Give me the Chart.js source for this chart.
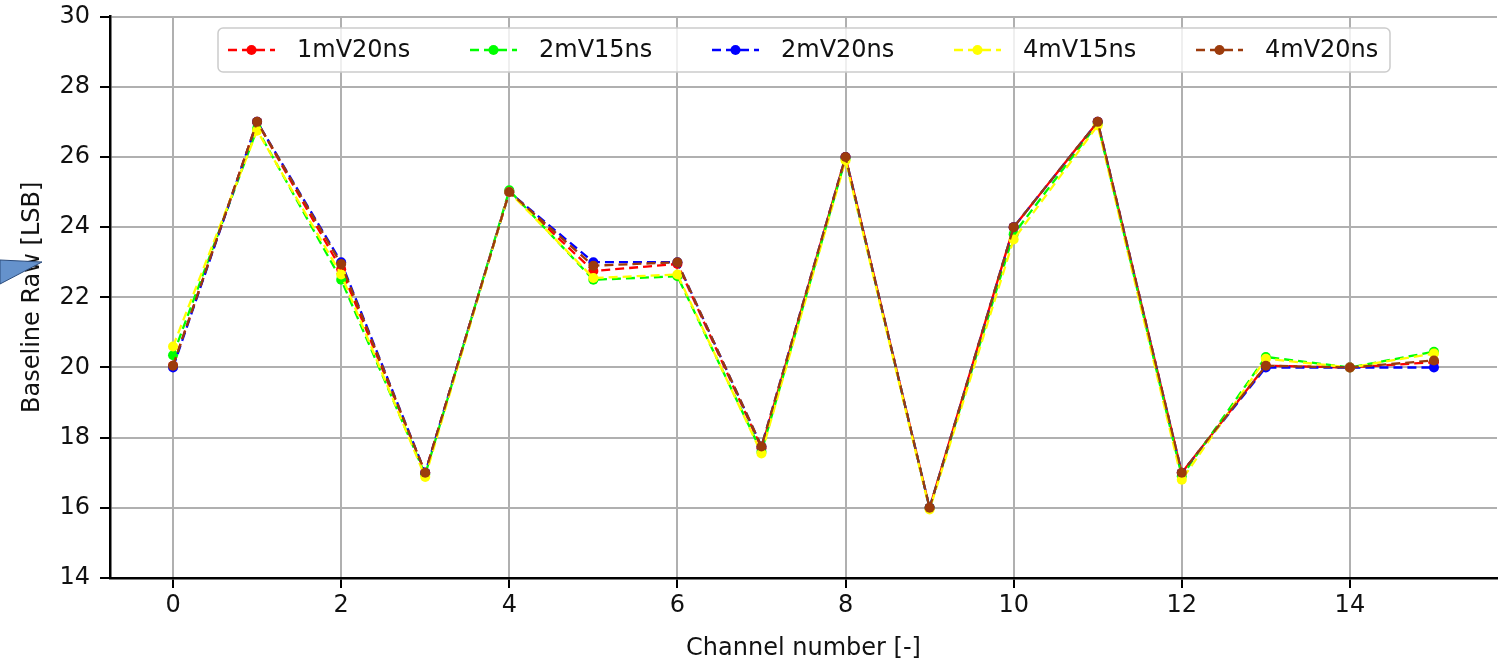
<!DOCTYPE html>
<html>
<head>
<meta charset="utf-8">
<script src="https://cdn.jsdelivr.net/npm/chart.js@4"></script>
<style>
  html, body { margin: 0; padding: 0; background: #fff; }
  #wrap { width: 1502px; height: 664px; }
</style>
</head>
<body>
<div id="wrap"><canvas id="baselineChart" width="1502" height="664"></canvas></div>
<script>
// channel numbers on the x axis
const channels = [0, 1, 2, 3, 4, 5, 6, 7, 8, 9, 10, 11, 12, 13, 14, 15];

// baseline raw values per setting
const v1mV20ns = [20.05, 27.0, 22.8, 17.0, 25.0, 22.75, 22.95, 17.7, 26.0, 16.0, 24.0, 27.0, 17.0, 20.05, 20.0, 20.15];
const v2mV15ns = [20.35, 26.8, 22.5, 16.95, 25.05, 22.5, 22.6, 17.6, 25.95, 16.0, 23.8, 26.95, 16.9, 20.3, 20.0, 20.45];
const v2mV20ns = [20.0, 27.0, 23.0, 17.0, 25.0, 23.0, 23.0, 17.75, 26.0, 16.0, 24.0, 27.0, 17.0, 20.0, 20.0, 20.0];
const v4mV15ns = [20.6, 26.75, 22.65, 16.88, 25.0, 22.55, 22.65, 17.55, 25.9, 15.95, 23.65, 26.9, 16.8, 20.25, 20.0, 20.4];
const v4mV20ns = [20.05, 27.0, 22.95, 17.0, 25.0, 22.9, 23.0, 17.75, 26.0, 16.0, 24.0, 27.0, 17.0, 20.05, 20.0, 20.2];

const seriesNames = ['1mV20ns', '2mV15ns', '2mV20ns', '4mV15ns', '4mV20ns'];
const seriesValues = [v1mV20ns, v2mV15ns, v2mV20ns, v4mV15ns, v4mV20ns];
const seriesColors = ['#ff0000', '#00ff00', '#0000ff', '#ffff00', '#9c3b0c'];

const xTicks = [0, 2, 4, 6, 8, 10, 12, 14];
const yTicks = [14, 16, 18, 20, 22, 24, 26, 28, 30];

const FONT = "'DejaVu Sans', sans-serif";
const FSIZE = 24;
const DASH = [9, 5];

const datasets = seriesNames.map((name, i) => ({
    label: name,
    data: channels.map((c, k) => ({ x: c, y: seriesValues[i][k] })),
    borderColor: seriesColors[i],
    backgroundColor: seriesColors[i],
    borderWidth: 2.3,
    borderDash: DASH,
    pointRadius: 5,
    pointBorderWidth: 0,
    tension: 0,
    order: seriesNames.length - i // later series drawn on top, like matplotlib
}));

// legend box in the style of matplotlib
const boxLegend = {
    id: 'boxLegend',
    afterDraw(chart) {
        const c = chart.ctx;
        const x0 = 218, y0 = 28, w = 1172, h = 44;
        c.save();
        c.beginPath();
        c.roundRect(x0, y0, w, h, 5);
        c.fillStyle = 'rgba(255,255,255,0.8)';
        c.fill();
        c.strokeStyle = '#cccccc';
        c.lineWidth = 1.5;
        c.stroke();
        const cy = y0 + h / 2;
        chart.data.datasets.forEach((ds, i) => {
            const lx = 228 + i * 242;
            c.beginPath();
            c.setLineDash(DASH);
            c.strokeStyle = ds.borderColor;
            c.lineWidth = 2.3;
            c.moveTo(lx, cy);
            c.lineTo(lx + 47, cy);
            c.stroke();
            c.setLineDash([]);
            c.beginPath();
            c.arc(lx + 23.5, cy, 5, 0, Math.PI * 2);
            c.fillStyle = ds.borderColor;
            c.fill();
            c.fillStyle = '#111';
            c.font = FSIZE + 'px ' + FONT;
            c.textBaseline = 'middle';
            c.textAlign = 'left';
            c.fillText(ds.label, lx + 69, cy + 1);
        });
        c.restore();
    }
};

// small blue pointer shape on the left edge of the picture
const pointer = {
    id: 'pointer',
    afterDraw(chart) {
        const c = chart.ctx;
        c.save();
        c.beginPath();
        c.moveTo(0, 260);
        c.lineTo(42, 262);
        c.lineTo(0, 284);
        c.closePath();
        c.fillStyle = '#6592cc';
        c.fill();
        c.strokeStyle = '#2c4c7c';
        c.lineWidth = 1;
        c.stroke();
        c.restore();
    }
};

const whiteBg = {
    id: 'whiteBg',
    beforeDraw(chart) {
        const c = chart.ctx;
        c.save();
        c.fillStyle = '#fff';
        c.fillRect(0, 0, chart.width, chart.height);
        c.restore();
    }
};

new Chart(document.getElementById('baselineChart').getContext('2d'), {
    type: 'line',
    data: { datasets },
    plugins: [whiteBg, boxLegend, pointer],
    options: {
        responsive: false,
        animation: false,
        layout: { padding: { left: 0, right: 5, top: 0, bottom: 0 } },
        plugins: { legend: { display: false }, tooltip: { enabled: false } },
        scales: {
            x: {
                type: 'linear',
                min: -0.75,
                max: 15.75,
                afterBuildTicks: s => { s.ticks = xTicks.map(v => ({ value: v })); },
                afterFit: s => { s.height = 86; },
                grid: { color: '#b0b0b0', lineWidth: 2, tickColor: '#000', tickLength: 10, tickWidth: 2 },
                border: { color: '#000', width: 2.5 },
                ticks: { color: '#111', font: { family: FONT, size: FSIZE }, padding: 3, maxRotation: 0 },
                title: { display: true, text: 'Channel number [-]', color: '#111',
                         font: { family: FONT, size: FSIZE }, padding: { top: 0, bottom: 1 } }
            },
            y: {
                min: 14,
                max: 30,
                afterBuildTicks: s => { s.ticks = yTicks.map(v => ({ value: v })); },
                afterFit: s => { s.width = 110; },
                grid: { color: '#b0b0b0', lineWidth: 2, tickColor: '#000', tickLength: 10, tickWidth: 2 },
                border: { color: '#000', width: 2.5 },
                ticks: { color: '#111', font: { family: FONT, size: FSIZE, lineHeight: 0.55 }, padding: 10 },
                title: { display: true, text: 'Baseline Raw [LSB]', color: '#111',
                         font: { family: FONT, size: FSIZE }, padding: { top: 18, bottom: 0 } }
            }
        }
    }
});
</script>
</body>
</html>
